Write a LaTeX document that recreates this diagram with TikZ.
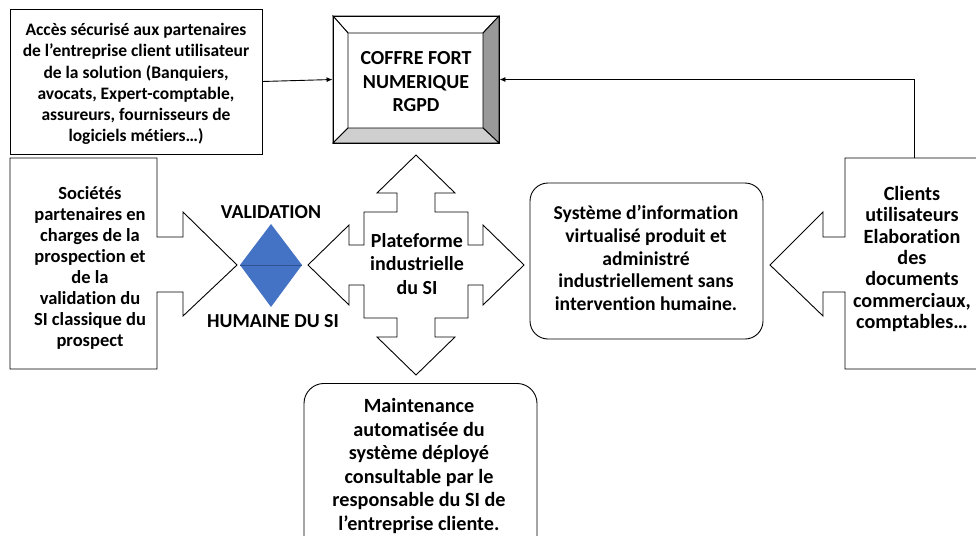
\documentclass[tikz,border=0pt]{standalone}
\usepackage{fontspec}
\setmainfont{Carlito}[Ligatures=NoCommon]
\usetikzlibrary{arrows.meta}
\definecolor{diamblue}{HTML}{4472C4}
\definecolor{diamline}{HTML}{2F528F}
\definecolor{bevdark}{HTML}{999999}
\definecolor{bevlight}{HTML}{CFCFCF}
\begin{document}
\begin{tikzpicture}[x=1pt,y=-1pt,
  line width=0.9pt,
  txt/.style={align=center, inner sep=0pt},
  fs/.style n args={2}{font=\fontsize{#1}{#2}\selectfont\bfseries},
  boxed/.style={draw=black, line width=0.9pt, inner sep=0pt},
  rbox/.style={draw=black, line width=0.9pt, inner sep=0pt, rounded corners=18pt},
  arr/.style={-{Latex[length=6pt,width=5pt]}, line width=0.9pt}]
\useasboundingbox (0,0) rectangle (976,535);
\fill[white] (0,0) rectangle (976,535);

% top-left box
\node[boxed, minimum width=252pt, minimum height=145pt] (acces) at (136,81.5) {};
\node[txt, fs={17.5}{21.2}] (accestxt) at (136,84) {Accès sécurisé aux partenaires\\de l’entreprise client utilisateur\\de la solution (Banquiers,\\avocats, Expert-comptable,\\assureurs, fournisseurs de\\logiciels métiers…)};

% coffre fort (bevel)
\node[minimum width=166pt, minimum height=127pt, inner sep=0pt] (coffre) at (416,79.5) {};
\draw[fill=white] (333,16) -- (499,16) -- (483,33) -- (348,33) -- cycle;
\draw[fill=white] (333,16) -- (348,33) -- (348,128) -- (333,143) -- cycle;
\draw[fill=bevdark] (499,16) -- (499,143) -- (483,128) -- (483,33) -- cycle;
\draw[fill=bevlight] (333,143) -- (348,128) -- (483,128) -- (499,143) -- cycle;
\draw (333,16) rectangle (499,143);
\node[txt, fs={19.9}{23.5}] (coffretxt) at (416,82) {COFFRE FORT\\NUMERIQUE\\RGPD};

% connector from top-left box
\draw[arr] (acces.east) -- (coffre.west);

% left callout
\draw[fill=white] (10,158) -- (157,158) -- (157,237) -- (183,237) -- (183,212) -- (237,265)
  -- (183,316) -- (183,292) -- (157,292) -- (157,369) -- (10,369) -- cycle;
\node[txt, fs={18.5}{21}] (soc) at (90,268) {Sociétés\\partenaires en\\charges de la\\prospection et\\de la\\validation du\\SI classique du\\prospect};

% diamond
\fill[diamblue] (240,265) -- (271,224) -- (302,265) -- (271,307) -- cycle;
\draw[diamline, line width=0.8pt] (240,265) -- (302,265);
\node[txt, fs={19.8}{23}] (valid) at (271,212) {VALIDATION};
\node[txt, fs={19.8}{23}] (humaine) at (273,321) {HUMAINE DU SI};

% quad arrow
\begin{scope}[shift={(416,265)}]
\draw[fill=white] (0,-110) -- (-39,-72) -- (-19,-72) -- (-19,-53) -- (-52,-53) -- (-52,-20)
  -- (-67,-20) -- (-67,-40) -- (-108,0) -- (-67,40) -- (-67,20) -- (-52,20) -- (-52,53)
  -- (-19,53) -- (-19,72) -- (-39,72) -- (0,110) -- (39,72) -- (19,72) -- (19,53)
  -- (52,53) -- (52,20) -- (67,20) -- (67,40) -- (108,0) -- (67,-40) -- (67,-20)
  -- (52,-20) -- (52,-53) -- (19,-53) -- (19,-72) -- (39,-72) -- cycle;
\end{scope}
\node[txt, fs={20}{23.3}] (plat) at (417,264) {Plateforme\\industrielle\\du SI};

% system box
\node[rbox, minimum width=233pt, minimum height=156pt] (sys) at (646.5,261) {};
\node[txt, fs={19.6}{22.9}] (systxt) at (646,258) {Système d’information\\virtualisé produit et\\administré\\industriellement sans\\intervention humaine.};

% clients callout
\draw[fill=white] (985,158) -- (845,158) -- (845,237) -- (823,237) -- (823,212) -- (770,265)
  -- (823,316) -- (823,292) -- (845,292) -- (845,369) -- (985,369);
\coordinate (clitop) at (914,158);
\node[txt, fs={20.2}{21.3}] (cli) at (912,259) {Clients\\utilisateurs\\Elaboration\\des\\documents\\commerciaux,\\comptables…};
\draw[arr] (clitop) |- (coffre.east);

% maintenance box
\node[rbox, rounded corners=20pt, minimum width=233pt, minimum height=180pt, anchor=north] (maint) at (420.5,383) {};
\node[txt, fs={20.2}{23.6}] (mainttxt) at (419,466) {Maintenance\\automatisée du\\système déployé\\consultable par le\\responsable du SI de\\l’entreprise cliente.};
\end{tikzpicture}
\end{document}
